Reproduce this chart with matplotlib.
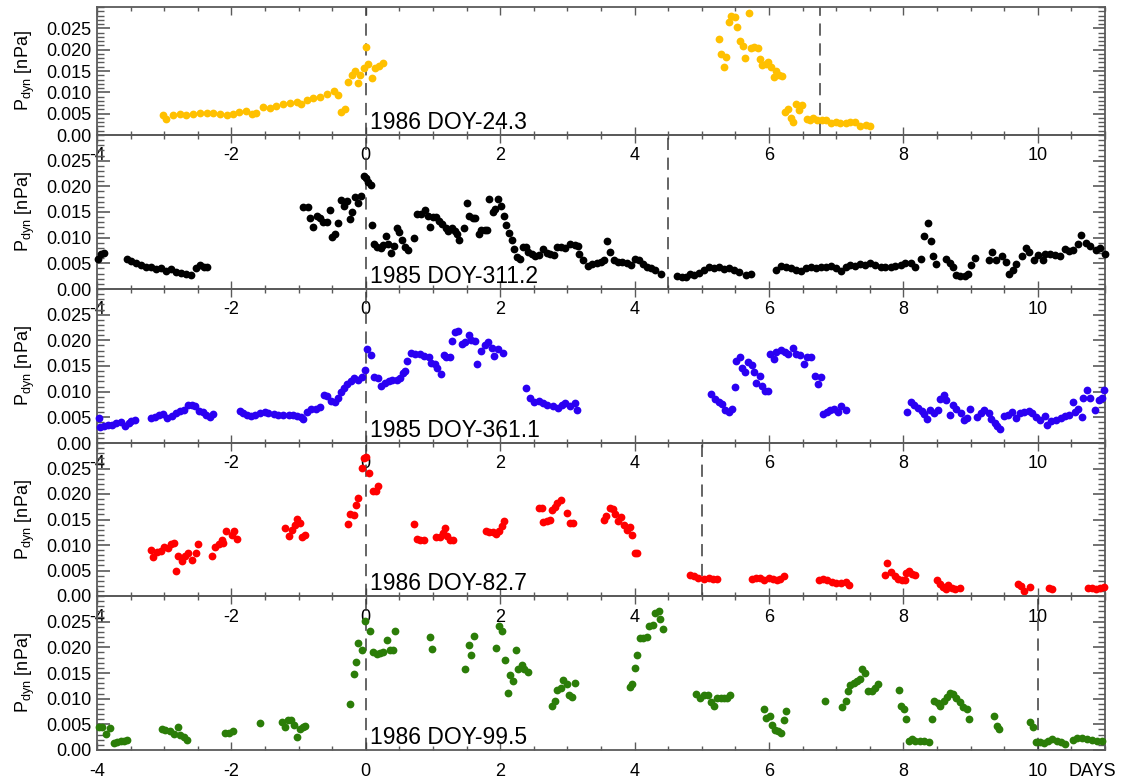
import matplotlib.pyplot as plt
from matplotlib.ticker import MultipleLocator, FixedLocator, FixedFormatter

plt.rcParams['font.family'] = ['Liberation Sans', 'DejaVu Sans']
plt.rcParams['mathtext.default'] = 'regular'
plt.rcParams['axes.unicode_minus'] = False

# panel settings
events = ['1986 DOY-24.3', '1985 DOY-311.2', '1985 DOY-361.1', '1986 DOY-82.7', '1986 DOY-99.5']
colors = ['#ffc000', '#000000', '#2a00f2', '#ff0000', '#2b7d08']
second_line = [6.76, 4.5, None, 5.0, 10.0]   # days
yticks = [0.0, 0.005, 0.010, 0.015, 0.020, 0.025]
ytick_labels = ['0.00', '0.005', '0.010', '0.015', '0.020', '0.025']
xticks = [-4, -2, 0, 2, 4, 6, 8, 10]

# (days, Pdyn [nPa])
pts1 = [(-3.02, 0.0046), (-2.97, 0.0038), (-2.87, 0.0046), (-2.77, 0.0050), (-2.67, 0.0048),
        (-2.57, 0.0050), (-2.47, 0.0051), (-2.37, 0.0052), (-2.27, 0.0051), (-2.17, 0.0050),
        (-2.07, 0.0048), (-1.98, 0.0050), (-1.88, 0.0053), (-1.78, 0.0056), (-1.70, 0.0050),
        (-1.63, 0.0051), (-1.53, 0.0065), (-1.43, 0.0064), (-1.33, 0.0069), (-1.23, 0.0072),
        (-1.13, 0.0075), (-1.03, 0.0077), (-0.96, 0.0073), (-0.88, 0.0081), (-0.78, 0.0087),
        (-0.68, 0.0090), (-0.58, 0.0095), (-0.48, 0.0103), (-0.42, 0.0093), (-0.37, 0.0053),
        (-0.31, 0.0061), (-0.26, 0.0124), (-0.21, 0.0140), (-0.16, 0.0150), (-0.12, 0.0122),
        (-0.08, 0.0140), (-0.03, 0.0156), (0.00, 0.0207), (0.04, 0.0166), (0.09, 0.0134),
        (0.14, 0.0156), (0.19, 0.0161), (0.25, 0.0169),
        (5.26, 0.0226), (5.29, 0.0189), (5.33, 0.0160), (5.36, 0.0182), (5.41, 0.0266),
        (5.44, 0.0278), (5.49, 0.0276), (5.53, 0.0252), (5.57, 0.0221), (5.61, 0.0209),
        (5.65, 0.0181), (5.70, 0.0287), (5.73, 0.0203), (5.78, 0.0207), (5.83, 0.0203),
        (5.86, 0.0177), (5.90, 0.0165), (5.95, 0.0166), (5.99, 0.0171), (6.03, 0.0160),
        (6.08, 0.0136), (6.11, 0.0149), (6.15, 0.0140), (6.20, 0.0138), (6.24, 0.0053),
        (6.28, 0.0061), (6.32, 0.0039), (6.36, 0.0030), (6.40, 0.0073), (6.45, 0.0059),
        (6.49, 0.0071), (6.56, 0.0038), (6.61, 0.0034), (6.66, 0.0039), (6.72, 0.0035),
        (6.79, 0.0036), (6.85, 0.0036), (6.92, 0.0028), (6.99, 0.0030), (7.06, 0.0028),
        (7.14, 0.0029), (7.21, 0.0030), (7.28, 0.0031), (7.35, 0.0022), (7.44, 0.0024),
        (7.51, 0.0022)]

pts2 = [(-3.99, 0.0059), (-3.94, 0.0069), (-3.90, 0.0070), (-3.55, 0.0059), (-3.50, 0.0054),
        (-3.42, 0.0051), (-3.35, 0.0046), (-3.27, 0.0043), (-3.20, 0.0042), (-3.12, 0.0038),
        (-3.05, 0.0040), (-2.97, 0.0035), (-2.90, 0.0038), (-2.82, 0.0034), (-2.75, 0.0032),
        (-2.67, 0.0029), (-2.60, 0.0028), (-2.52, 0.0040), (-2.47, 0.0046), (-2.41, 0.0043),
        (-2.36, 0.0043), (-0.93, 0.0159), (-0.86, 0.0159), (-0.83, 0.0139), (-0.78, 0.0121),
        (-0.73, 0.0143), (-0.68, 0.0139), (-0.63, 0.0130), (-0.58, 0.0130), (-0.53, 0.0153),
        (-0.51, 0.0101), (-0.46, 0.0108), (-0.41, 0.0128), (-0.37, 0.0174), (-0.32, 0.0161),
        (-0.28, 0.0172), (-0.24, 0.0137), (-0.20, 0.0150), (-0.16, 0.0179), (-0.11, 0.0167),
        (-0.07, 0.0182), (-0.03, 0.0221), (0.00, 0.0217), (0.04, 0.0208), (0.07, 0.0203),
        (0.09, 0.0124), (0.12, 0.0088), (0.17, 0.0082), (0.22, 0.0079), (0.26, 0.0085),
        (0.30, 0.0103), (0.33, 0.0088), (0.38, 0.0070), (0.42, 0.0083), (0.47, 0.0119),
        (0.50, 0.0111), (0.54, 0.0095), (0.58, 0.0082), (0.63, 0.0075), (0.72, 0.0100),
        (0.76, 0.0146), (0.82, 0.0146), (0.88, 0.0153), (0.93, 0.0143), (0.96, 0.0121),
        (1.00, 0.0141), (1.05, 0.0140), (1.09, 0.0132), (1.14, 0.0127), (1.19, 0.0119),
        (1.23, 0.0113), (1.28, 0.0119), (1.33, 0.0113), (1.36, 0.0108), (1.39, 0.0095),
        (1.46, 0.0119), (1.50, 0.0167), (1.54, 0.0143), (1.59, 0.0139), (1.63, 0.0139),
        (1.68, 0.0108), (1.72, 0.0114), (1.77, 0.0114), (1.81, 0.0114), (1.84, 0.0175),
        (1.89, 0.0150), (1.93, 0.0156), (1.96, 0.0175), (2.01, 0.0161), (2.05, 0.0143),
        (2.09, 0.0124), (2.13, 0.0109), (2.18, 0.0095), (2.21, 0.0077), (2.25, 0.0063),
        (2.30, 0.0059), (2.34, 0.0082), (2.39, 0.0081), (2.42, 0.0072), (2.47, 0.0069),
        (2.52, 0.0064), (2.57, 0.0066), (2.63, 0.0077), (2.69, 0.0070), (2.74, 0.0068),
        (2.80, 0.0066), (2.85, 0.0082), (2.91, 0.0081), (2.97, 0.0079), (3.04, 0.0087),
        (3.11, 0.0085), (3.16, 0.0083), (3.18, 0.0068), (3.23, 0.0057), (3.30, 0.0045),
        (3.37, 0.0048), (3.44, 0.0051), (3.50, 0.0053), (3.55, 0.0057), (3.59, 0.0094),
        (3.63, 0.0072), (3.69, 0.0056), (3.75, 0.0053), (3.81, 0.0053), (3.88, 0.0050),
        (3.94, 0.0046), (4.00, 0.0059), (4.06, 0.0056), (4.13, 0.0048), (4.19, 0.0042),
        (4.25, 0.0040), (4.31, 0.0037), (4.39, 0.0029), (4.63, 0.0025), (4.70, 0.0023),
        (4.76, 0.0024), (4.83, 0.0030), (4.89, 0.0027), (4.96, 0.0032), (5.03, 0.0037),
        (5.11, 0.0042), (5.18, 0.0040), (5.26, 0.0042), (5.33, 0.0038), (5.41, 0.0040),
        (5.48, 0.0037), (5.56, 0.0034), (5.66, 0.0027), (5.73, 0.0029),
        (6.10, 0.0037), (6.18, 0.0045), (6.25, 0.0042), (6.33, 0.0040), (6.40, 0.0037),
        (6.48, 0.0035), (6.55, 0.0040), (6.63, 0.0042), (6.70, 0.0040), (6.78, 0.0043),
        (6.85, 0.0042), (6.93, 0.0045), (7.00, 0.0040), (7.07, 0.0035), (7.14, 0.0042),
        (7.21, 0.0046), (7.28, 0.0045), (7.36, 0.0048), (7.43, 0.0046), (7.51, 0.0051),
        (7.58, 0.0046), (7.66, 0.0042), (7.73, 0.0043), (7.81, 0.0042), (7.88, 0.0045),
        (7.96, 0.0046), (8.03, 0.0050), (8.11, 0.0051), (8.18, 0.0043), (8.26, 0.0059),
        (8.31, 0.0103), (8.36, 0.0128), (8.41, 0.0094), (8.44, 0.0064), (8.48, 0.0048),
        (8.64, 0.0059), (8.69, 0.0051), (8.74, 0.0043), (8.79, 0.0027), (8.84, 0.0025),
        (8.91, 0.0026), (8.96, 0.0030), (9.00, 0.0046), (9.06, 0.0061), (9.27, 0.0056),
        (9.32, 0.0072), (9.38, 0.0056), (9.47, 0.0064), (9.53, 0.0053), (9.57, 0.0030),
        (9.63, 0.0037), (9.68, 0.0048), (9.76, 0.0064), (9.82, 0.0079), (9.87, 0.0072),
        (9.95, 0.0056), (10.00, 0.0066), (10.07, 0.0056), (10.11, 0.0069), (10.18, 0.0068),
        (10.26, 0.0066), (10.33, 0.0064), (10.40, 0.0077), (10.47, 0.0074), (10.53, 0.0075),
        (10.60, 0.0087), (10.65, 0.0106), (10.71, 0.0090), (10.78, 0.0083), (10.86, 0.0075),
        (10.93, 0.0079), (11.00, 0.0068)]

pts3 = [(-3.97, 0.0048), (-3.95, 0.0032), (-3.89, 0.0033), (-3.84, 0.0035), (-3.78, 0.0035),
        (-3.71, 0.0038), (-3.64, 0.0040), (-3.59, 0.0033), (-3.53, 0.0038), (-3.49, 0.0042),
        (-3.43, 0.0045), (-3.20, 0.0048), (-3.14, 0.0051), (-3.07, 0.0054), (-3.02, 0.0056),
        (-2.96, 0.0048), (-2.89, 0.0053), (-2.83, 0.0058), (-2.77, 0.0063), (-2.71, 0.0065),
        (-2.64, 0.0075), (-2.59, 0.0074), (-2.54, 0.0072), (-2.48, 0.0063), (-2.43, 0.0061),
        (-2.38, 0.0054), (-2.32, 0.0051), (-2.27, 0.0056), (-1.87, 0.0063), (-1.82, 0.0058),
        (-1.77, 0.0054), (-1.71, 0.0053), (-1.65, 0.0054), (-1.58, 0.0058), (-1.50, 0.0061),
        (-1.45, 0.0058), (-1.37, 0.0056), (-1.30, 0.0054), (-1.23, 0.0054), (-1.15, 0.0054),
        (-1.09, 0.0054), (-1.02, 0.0053), (-0.97, 0.0050), (-0.93, 0.0046), (-0.87, 0.0061),
        (-0.81, 0.0067), (-0.74, 0.0067), (-0.68, 0.0071), (-0.62, 0.0093), (-0.57, 0.0091),
        (-0.52, 0.0082), (-0.46, 0.0080), (-0.41, 0.0088), (-0.37, 0.0099), (-0.32, 0.0108),
        (-0.28, 0.0115), (-0.22, 0.0121), (-0.17, 0.0127), (-0.12, 0.0122), (-0.06, 0.0129),
        (-0.01, 0.0142), (0.02, 0.0183), (0.07, 0.0172), (0.12, 0.0129), (0.18, 0.0127),
        (0.23, 0.0112), (0.28, 0.0117), (0.34, 0.0121), (0.39, 0.0123), (0.46, 0.0122),
        (0.51, 0.0127), (0.55, 0.0136), (0.59, 0.0140), (0.62, 0.0159), (0.67, 0.0176),
        (0.73, 0.0174), (0.80, 0.0173), (0.87, 0.0170), (0.94, 0.0168), (0.97, 0.0155),
        (1.03, 0.0153), (1.06, 0.0147), (1.12, 0.0135), (1.16, 0.0172), (1.20, 0.0167),
        (1.26, 0.0167), (1.29, 0.0199), (1.33, 0.0217), (1.37, 0.0219), (1.43, 0.0192),
        (1.48, 0.0196), (1.53, 0.0210), (1.57, 0.0200), (1.63, 0.0199), (1.66, 0.0153),
        (1.72, 0.0179), (1.77, 0.0191), (1.82, 0.0196), (1.88, 0.0186), (1.91, 0.0170),
        (1.97, 0.0183), (2.04, 0.0176), (2.39, 0.0108), (2.45, 0.0087), (2.50, 0.0080),
        (2.57, 0.0082), (2.64, 0.0078), (2.70, 0.0074), (2.78, 0.0072), (2.86, 0.0069),
        (2.92, 0.0074), (2.97, 0.0077), (3.04, 0.0072), (3.11, 0.0077), (3.15, 0.0065),
        (5.14, 0.0095), (5.19, 0.0085), (5.25, 0.0080), (5.30, 0.0076), (5.34, 0.0065),
        (5.40, 0.0061), (5.45, 0.0067), (5.49, 0.0110), (5.51, 0.0159), (5.57, 0.0167),
        (5.60, 0.0147), (5.65, 0.0138), (5.69, 0.0157), (5.74, 0.0151), (5.77, 0.0138),
        (5.81, 0.0117), (5.86, 0.0131), (5.90, 0.0112), (5.94, 0.0101), (5.99, 0.0101),
        (6.02, 0.0173), (6.07, 0.0163), (6.11, 0.0178), (6.18, 0.0181), (6.24, 0.0178),
        (6.29, 0.0173), (6.35, 0.0186), (6.40, 0.0174), (6.46, 0.0172), (6.52, 0.0153),
        (6.57, 0.0167), (6.62, 0.0167), (6.68, 0.0131), (6.73, 0.0115), (6.77, 0.0129),
        (6.81, 0.0056), (6.86, 0.0061), (6.91, 0.0065), (6.97, 0.0067), (7.02, 0.0061),
        (7.07, 0.0072), (7.15, 0.0065), (8.06, 0.0061), (8.11, 0.0080), (8.16, 0.0074),
        (8.22, 0.0069), (8.27, 0.0063), (8.31, 0.0056), (8.35, 0.0046), (8.40, 0.0065),
        (8.45, 0.0058), (8.51, 0.0064), (8.55, 0.0085), (8.60, 0.0093), (8.64, 0.0083),
        (8.69, 0.0054), (8.74, 0.0074), (8.79, 0.0067), (8.85, 0.0058), (8.90, 0.0044),
        (8.95, 0.0048), (8.99, 0.0067), (9.10, 0.0050), (9.15, 0.0058), (9.20, 0.0064),
        (9.27, 0.0059), (9.31, 0.0046), (9.36, 0.0038), (9.40, 0.0033), (9.44, 0.0027),
        (9.50, 0.0053), (9.55, 0.0054), (9.61, 0.0061), (9.68, 0.0048), (9.73, 0.0059),
        (9.80, 0.0061), (9.87, 0.0063), (9.92, 0.0059), (9.97, 0.0051), (10.04, 0.0045),
        (10.11, 0.0053), (10.14, 0.0035), (10.20, 0.0042), (10.27, 0.0044), (10.34, 0.0048),
        (10.40, 0.0053), (10.46, 0.0054), (10.52, 0.0080), (10.56, 0.0061), (10.60, 0.0067),
        (10.66, 0.0051), (10.68, 0.0087), (10.73, 0.0103), (10.78, 0.0088), (10.85, 0.0065),
        (10.91, 0.0083), (10.96, 0.0087), (10.99, 0.0103)]

pts4 = [(-3.20, 0.0091), (-3.16, 0.0076), (-3.11, 0.0086), (-3.05, 0.0088), (-3.00, 0.0097),
        (-2.95, 0.0095), (-2.90, 0.0101), (-2.86, 0.0104), (-2.82, 0.0050), (-2.79, 0.0078),
        (-2.74, 0.0069), (-2.69, 0.0078), (-2.64, 0.0084), (-2.58, 0.0071), (-2.53, 0.0084),
        (-2.49, 0.0102), (-2.29, 0.0078), (-2.24, 0.0097), (-2.19, 0.0101), (-2.14, 0.0110),
        (-2.12, 0.0104), (-2.08, 0.0128), (-1.99, 0.0119), (-1.96, 0.0127), (-1.91, 0.0112),
        (-1.20, 0.0133), (-1.15, 0.0117), (-1.10, 0.0130), (-1.06, 0.0140), (-1.02, 0.0151),
        (-0.98, 0.0143), (-0.95, 0.0115), (-0.90, 0.0119), (-0.27, 0.0141), (-0.23, 0.0160),
        (-0.18, 0.0158), (-0.15, 0.0179), (-0.11, 0.0192), (-0.06, 0.0251), (-0.02, 0.0271),
        (0.01, 0.0273), (0.05, 0.0242), (0.10, 0.0205), (0.15, 0.0205), (0.18, 0.0216),
        (0.72, 0.0141), (0.76, 0.0112), (0.81, 0.0110), (0.86, 0.0110), (1.05, 0.0115),
        (1.10, 0.0115), (1.15, 0.0123), (1.18, 0.0133), (1.21, 0.0117), (1.26, 0.0110),
        (1.30, 0.0110), (1.79, 0.0128), (1.84, 0.0125), (1.89, 0.0125), (1.94, 0.0121),
        (1.98, 0.0128), (2.02, 0.0138), (2.06, 0.0147), (2.57, 0.0173), (2.62, 0.0173),
        (2.64, 0.0146), (2.69, 0.0147), (2.74, 0.0149), (2.77, 0.0169), (2.81, 0.0175),
        (2.85, 0.0182), (2.90, 0.0188), (2.99, 0.0162), (3.04, 0.0143), (3.09, 0.0143),
        (3.54, 0.0149), (3.58, 0.0156), (3.63, 0.0173), (3.68, 0.0171), (3.71, 0.0160),
        (3.76, 0.0147), (3.80, 0.0154), (3.84, 0.0140), (3.89, 0.0130), (3.93, 0.0136),
        (3.96, 0.0120), (4.00, 0.0084), (4.04, 0.0084), (4.83, 0.0042), (4.89, 0.0039),
        (4.95, 0.0036), (5.03, 0.0034), (5.10, 0.0036), (5.17, 0.0034), (5.23, 0.0034),
        (5.75, 0.0034), (5.81, 0.0036), (5.87, 0.0036), (5.93, 0.0032), (6.00, 0.0036),
        (6.06, 0.0034), (6.12, 0.0032), (6.17, 0.0034), (6.23, 0.0039), (6.75, 0.0032),
        (6.81, 0.0034), (6.87, 0.0031), (6.94, 0.0028), (7.00, 0.0026), (7.07, 0.0026),
        (7.14, 0.0028), (7.19, 0.0021), (7.72, 0.0042), (7.76, 0.0065), (7.81, 0.0047),
        (7.87, 0.0039), (7.92, 0.0034), (7.98, 0.0032), (8.03, 0.0032), (8.04, 0.0045),
        (8.09, 0.0050), (8.13, 0.0044), (8.18, 0.0041), (8.50, 0.0031), (8.54, 0.0023),
        (8.59, 0.0018), (8.64, 0.0013), (8.67, 0.0021), (8.72, 0.0015), (8.77, 0.0013),
        (8.84, 0.0015), (9.70, 0.0024), (9.75, 0.0019), (9.80, 0.0010), (9.88, 0.0018),
        (10.16, 0.0015), (10.21, 0.0013), (10.74, 0.0015), (10.81, 0.0015), (10.87, 0.0013),
        (10.93, 0.0015), (10.98, 0.0018)]

pts5 = [(-3.97, 0.0044), (-3.92, 0.0045), (-3.86, 0.0031), (-3.80, 0.0043), (-3.75, 0.0013),
        (-3.70, 0.0015), (-3.65, 0.0017), (-3.60, 0.0018), (-3.56, 0.0019), (-3.04, 0.0041),
        (-2.99, 0.0039), (-2.92, 0.0037), (-2.86, 0.0032), (-2.80, 0.0044), (-2.76, 0.0030),
        (-2.71, 0.0025), (-2.66, 0.0019), (-2.09, 0.0034), (-2.04, 0.0034), (-1.98, 0.0037),
        (-1.57, 0.0052), (-1.25, 0.0055), (-1.20, 0.0045), (-1.16, 0.0058), (-1.11, 0.0058),
        (-1.07, 0.0049), (-1.02, 0.0026), (-0.98, 0.0041), (-0.93, 0.0045), (-0.90, 0.0047),
        (-0.23, 0.0089), (-0.18, 0.0148), (-0.15, 0.0172), (-0.11, 0.0208), (-0.06, 0.0194),
        (-0.01, 0.0252), (0.06, 0.0232), (0.10, 0.0191), (0.16, 0.0187), (0.21, 0.0189),
        (0.26, 0.0191), (0.31, 0.0215), (0.36, 0.0194), (0.40, 0.0194), (0.43, 0.0232),
        (0.95, 0.0221), (0.98, 0.0197), (1.48, 0.0157), (1.53, 0.0204), (1.57, 0.0185),
        (1.61, 0.0223), (1.94, 0.0199), (1.98, 0.0241), (2.03, 0.0232), (2.07, 0.0176),
        (2.11, 0.0112), (2.14, 0.0146), (2.19, 0.0135), (2.23, 0.0194), (2.27, 0.0157),
        (2.32, 0.0166), (2.36, 0.0157), (2.41, 0.0152), (2.77, 0.0086), (2.81, 0.0095),
        (2.85, 0.0116), (2.90, 0.0120), (2.94, 0.0137), (2.99, 0.0129), (3.02, 0.0108),
        (3.07, 0.0103), (3.11, 0.0131), (3.93, 0.0123), (3.96, 0.0128), (4.00, 0.0159),
        (4.04, 0.0185), (4.08, 0.0218), (4.13, 0.0219), (4.18, 0.0221), (4.22, 0.0241),
        (4.27, 0.0244), (4.31, 0.0266), (4.36, 0.0270), (4.38, 0.0255), (4.42, 0.0235),
        (4.92, 0.0110), (4.97, 0.0102), (5.03, 0.0107), (5.09, 0.0107), (5.13, 0.0094),
        (5.18, 0.0086), (5.22, 0.0101), (5.28, 0.0102), (5.33, 0.0102), (5.38, 0.0102),
        (5.42, 0.0108), (5.92, 0.0079), (5.96, 0.0062), (6.01, 0.0066), (6.04, 0.0049),
        (6.09, 0.0039), (6.14, 0.0037), (6.18, 0.0034), (6.22, 0.0058), (6.26, 0.0076),
        (6.84, 0.0095), (7.09, 0.0083), (7.14, 0.0095), (7.17, 0.0115), (7.21, 0.0126),
        (7.26, 0.0131), (7.31, 0.0135), (7.35, 0.0139), (7.38, 0.0157), (7.43, 0.0150),
        (7.48, 0.0114), (7.53, 0.0115), (7.58, 0.0120), (7.62, 0.0128), (7.93, 0.0116),
        (7.97, 0.0086), (8.01, 0.0079), (8.04, 0.0060), (8.08, 0.0017), (8.13, 0.0021),
        (8.18, 0.0018), (8.24, 0.0017), (8.30, 0.0017), (8.38, 0.0015), (8.43, 0.0060),
        (8.46, 0.0095), (8.51, 0.0092), (8.55, 0.0086), (8.60, 0.0095), (8.65, 0.0103),
        (8.69, 0.0112), (8.74, 0.0110), (8.79, 0.0101), (8.84, 0.0094), (8.89, 0.0083),
        (8.94, 0.0079), (8.97, 0.0060), (9.35, 0.0066), (9.39, 0.0047), (9.42, 0.0041),
        (9.88, 0.0054), (9.93, 0.0045), (9.97, 0.0015), (10.03, 0.0015), (10.09, 0.0013),
        (10.15, 0.0017), (10.21, 0.0021), (10.28, 0.0018), (10.34, 0.0015), (10.40, 0.0012),
        (10.53, 0.0019), (10.59, 0.0023), (10.66, 0.0023), (10.73, 0.0021), (10.81, 0.0019),
        (10.88, 0.0018), (10.96, 0.0018)]

panels = [pts1, pts2, pts3, pts4, pts5]

W, H = 1121, 782
fig = plt.figure(figsize=(W / 100, H / 100), dpi=100)
left, right = 97, 1105
tops = [7, 135, 289, 443, 596]
bottoms = [135, 289, 443, 596, 750]
axis_grey = '#5a5a5a'
dash = (0, (8, 5))

for i, pts in enumerate(panels):
    ax = fig.add_axes([left / W, 1 - bottoms[i] / H, (right - left) / W, (bottoms[i] - tops[i]) / H])
    ax.patch.set_alpha(0)
    t = [p[0] for p in pts]
    v = [p[1] for p in pts]
    ax.plot(t, v, 'o', color=colors[i], ms=5.6, mew=0, clip_on=False, zorder=3)

    ax.axvline(0, color='#3a3a3a', lw=1.1, ls=dash, zorder=2)
    if second_line[i] is not None:
        ax.axvline(second_line[i], color='#3a3a3a', lw=1.1, ls=dash, zorder=2)

    ax.set_xlim(-4, 11.0)
    ax.set_ylim(0, 0.030)
    ax.xaxis.set_major_locator(FixedLocator(xticks))
    ax.xaxis.set_minor_locator(MultipleLocator(0.5))
    ax.yaxis.set_major_locator(FixedLocator(yticks))
    ax.yaxis.set_major_formatter(FixedFormatter(ytick_labels))
    ax.yaxis.set_minor_locator(MultipleLocator(0.001))

    ax.tick_params(which='both', direction='in', top=True, right=True,
                   colors=axis_grey, labelcolor='black', labelsize=13)
    ax.tick_params(axis='y', which='major', length=9, width=1.2, pad=4)
    ax.tick_params(axis='y', which='minor', length=5, width=1.0)
    ax.tick_params(axis='x', which='major', length=6, width=1.0, pad=9)
    ax.tick_params(axis='x', which='minor', length=3, width=1.0)
    for s in ax.spines.values():
        s.set_color(axis_grey)
        s.set_linewidth(1.3)

    ax.set_ylabel('P$_{dyn}$ [nPa]', fontsize=13)
    ax.yaxis.set_label_coords(-0.06, 0.5)

    ax.annotate(events[i], xy=(0.06, 0), xycoords=('data', 'axes fraction'),
                xytext=(0, 4), textcoords='offset points', fontsize=16.5,
                ha='left', va='baseline')

    if i == len(panels) - 1:
        ax.annotate('DAYS', xy=(10.46, 0), xycoords=('data', 'axes fraction'),
                    xytext=(0, -9), textcoords='offset points', fontsize=13,
                    ha='left', va='top')

fig.savefig('out.png', dpi=100)
